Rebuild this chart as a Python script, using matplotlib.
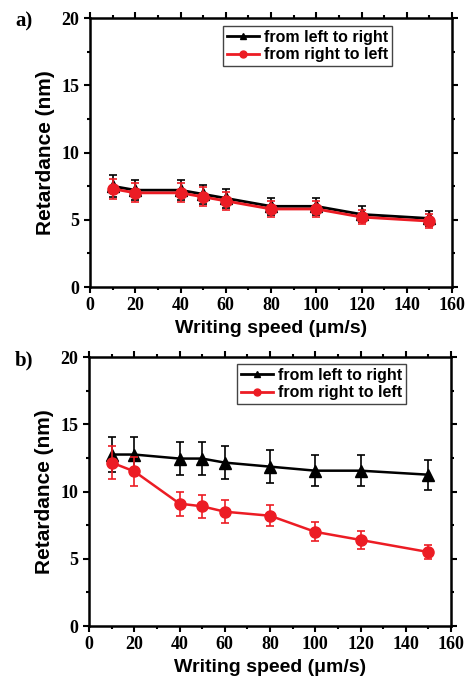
import matplotlib
matplotlib.use("Agg")
import matplotlib.pyplot as plt
from matplotlib.lines import Line2D
from matplotlib.ticker import MultipleLocator

# writing speed (um/s)
speed = [10, 20, 40, 50, 60, 80, 100, 120, 150]

# panel a)
a_ltr = [7.5, 7.2, 7.2, 6.9, 6.6, 6.0, 6.0, 5.4, 5.1]
a_ltr_err = [0.8, 0.75, 0.75, 0.7, 0.7, 0.65, 0.65, 0.6, 0.55]
a_rtl = [7.3, 7.0, 7.0, 6.7, 6.4, 5.8, 5.8, 5.2, 4.9]
a_rtl_err = [0.75, 0.7, 0.7, 0.7, 0.65, 0.6, 0.6, 0.55, 0.5]

# panel b)
b_ltr = [12.75, 12.75, 12.45, 12.45, 12.15, 11.85, 11.55, 11.55, 11.25]
b_ltr_err = [1.3, 1.3, 1.25, 1.25, 1.2, 1.2, 1.15, 1.15, 1.1]
b_rtl = [12.15, 11.5, 9.1, 8.9, 8.5, 8.2, 7.0, 6.4, 5.5]
b_rtl_err = [1.2, 1.1, 0.9, 0.87, 0.85, 0.8, 0.7, 0.65, 0.55]

labels = ["from left to right", "from right to left"]
RED = "#ec1c24"

serif = "Liberation Serif"
sans = "Liberation Sans"

fig = plt.figure(figsize=(4.72, 6.85), dpi=100)
ax_a = fig.add_axes([0.1907, 0.581, 0.767, 0.3927])
ax_b = fig.add_axes([0.1886, 0.0861, 0.767, 0.3927])


def draw(ax, ltr, ltr_err, rtl, rtl_err, tag, ms, lw, anchor):
    ax.errorbar(speed, ltr, yerr=ltr_err, color="black", marker="^", ms=ms,
                lw=lw, elinewidth=1.2, capsize=3, capthick=1.2, zorder=3)
    ax.errorbar(speed, rtl, yerr=rtl_err, color=RED, marker="o", ms=ms,
                lw=lw, elinewidth=1.2, capsize=3, capthick=1.2, zorder=4)
    ax.set_xlim(0, 160)
    ax.set_ylim(0, 20)
    ax.xaxis.set_major_locator(MultipleLocator(20))
    ax.xaxis.set_minor_locator(MultipleLocator(10))
    ax.yaxis.set_major_locator(MultipleLocator(5))
    ax.yaxis.set_minor_locator(MultipleLocator(2.5))
    ax.tick_params(which="both", direction="out", width=1.5, top=True, right=True)
    ax.tick_params(which="major", length=4)
    ax.tick_params(which="minor", length=2.5)
    for s in ax.spines.values():
        s.set_linewidth(1.8)
    for lab in ax.get_xticklabels() + ax.get_yticklabels():
        lab.set_fontfamily(serif)
        lab.set_fontweight("bold")
        lab.set_fontsize(13)
    ax.set_xlabel("Writing speed (\u03bcm/s)", fontfamily=sans, fontweight="bold", fontsize=14)
    ax.set_ylabel("Retardance (nm)", fontfamily=sans, fontweight="bold", fontsize=15, labelpad=5)
    handles = [Line2D([], [], color="black", marker="^", ms=5, lw=2),
               Line2D([], [], color=RED, marker="o", ms=5, lw=2)]
    leg = ax.legend(handles, labels, loc="upper right", bbox_to_anchor=anchor,
                    prop={"family": sans, "weight": "bold", "size": 11.5},
                    fancybox=False, framealpha=1, edgecolor="#444444", handlelength=2.0,
                    handletextpad=0.3, borderpad=0.25, labelspacing=0.15,
                    borderaxespad=0)
    leg.get_frame().set_linewidth(1.0)
    ax.text(-0.205, 1.025, tag, transform=ax.transAxes, fontfamily=serif, fontweight="bold",
            fontsize=15, va="top", ha="left")


draw(ax_a, a_ltr, a_ltr_err, a_rtl, a_rtl_err, "a)", 8, 2.0, (0.834, 0.97))
draw(ax_b, b_ltr, b_ltr_err, b_rtl, b_rtl_err, "b)", 8, 1.8, (0.876, 0.974))

fig.savefig("out.png", dpi=100)
